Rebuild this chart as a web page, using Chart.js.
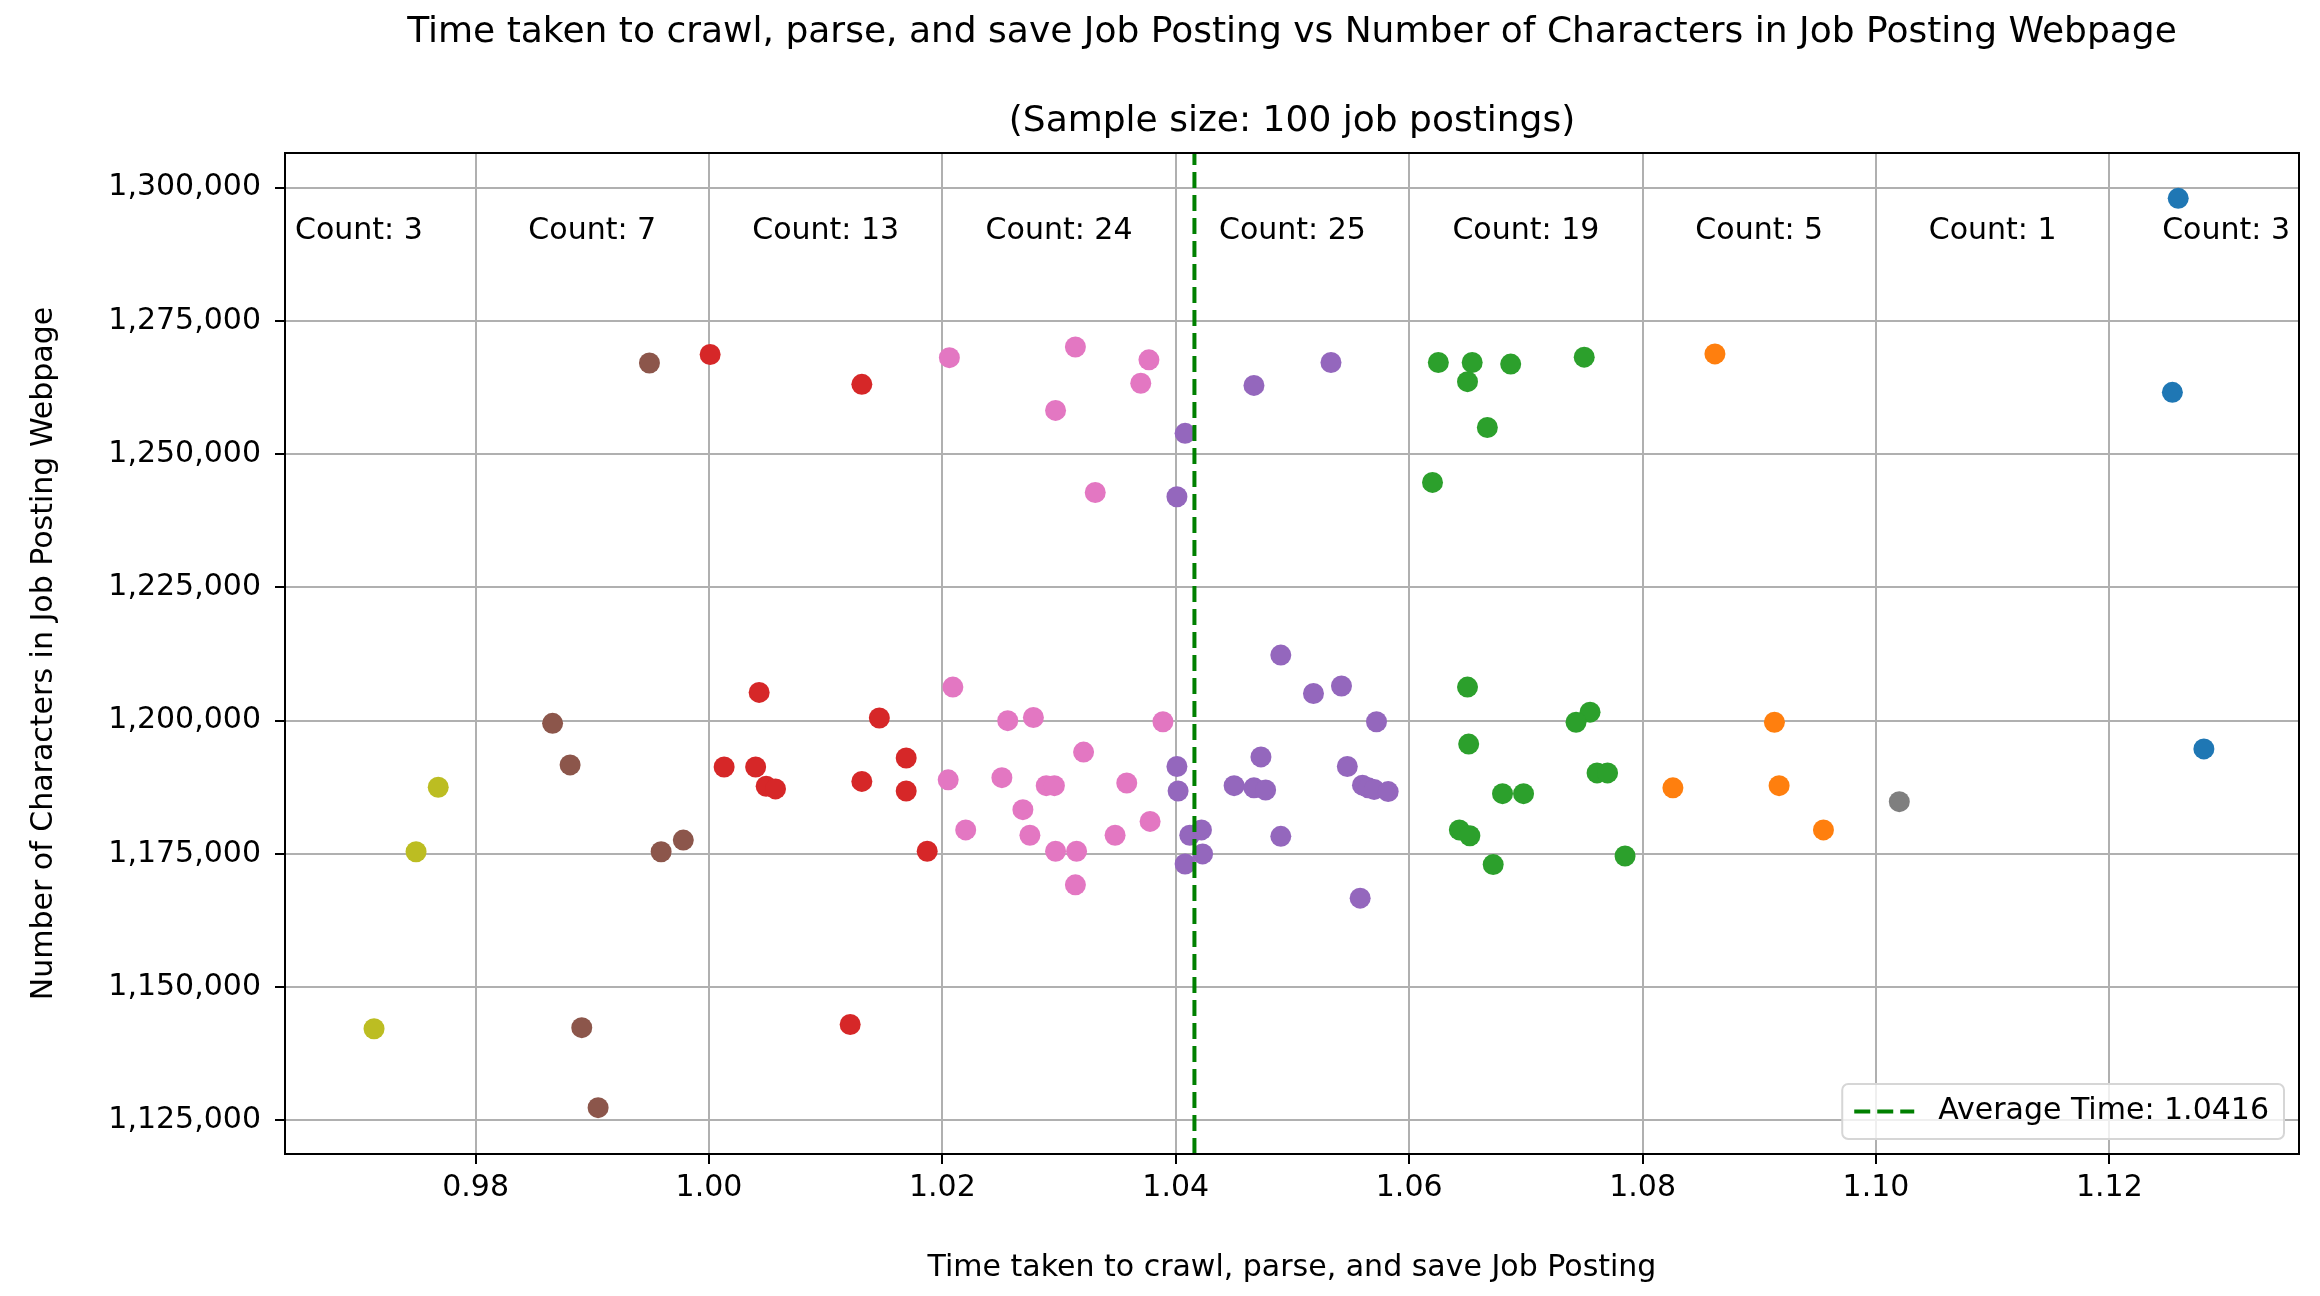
<!DOCTYPE html>
<html>
<head>
<meta charset="utf-8">
<script src="https://cdn.jsdelivr.net/npm/chart.js@4.4.1/dist/chart.umd.min.js"></script>
<style>
html,body{margin:0;padding:0;background:#ffffff;}
#wrap{width:2320px;height:1296px;}
canvas{display:block;}
</style>
</head>
<body>
<div id="wrap"><canvas id="c" width="2320" height="1296" style="width:2320px;height:1296px"></canvas></div>
<script>
// ---------- data ----------
const TITLE_LINE1 = 'Time taken to crawl, parse, and save Job Posting vs Number of Characters in Job Posting Webpage';
const TITLE_LINE2 = '(Sample size: 100 job postings)';
const X_LABEL = 'Time taken to crawl, parse, and save Job Posting';
const Y_LABEL = 'Number of Characters in Job Posting Webpage';
const LEGEND_LABEL = 'Average Time: 1.0416';

const AVG_TIME = 1.0416;
const BIN_EDGES = [0.96, 0.98, 1.00, 1.02, 1.04, 1.06, 1.08, 1.10, 1.12, 1.14];
const BIN_COUNTS = [3, 7, 13, 24, 25, 19, 5, 1, 3];
const COUNT_LABEL_Y = 1291800;

const X_TICKS = [0.98, 1.00, 1.02, 1.04, 1.06, 1.08, 1.10, 1.12];
const Y_TICKS = [1125000, 1150000, 1175000, 1200000, 1225000, 1250000, 1275000, 1300000];
const X_RANGE = [0.96367, 1.13625];
const Y_RANGE = [1118700, 1306500];

// bin 0.96-0.98
const TIME_B1 = [0.9768, 0.9749, 0.9713];
const CHARS_B1 = [1187500, 1175400, 1142200];
// bin 0.98-1.00
const TIME_B2 = [0.9866, 0.9881, 0.9959, 0.9978, 0.9891, 0.9905, 0.9949];
const CHARS_B2 = [1199500, 1191700, 1175400, 1177600, 1142400, 1127400, 1267100];
// bin 1.00-1.02
const TIME_B3 = [1.0001, 1.0131, 1.0043, 1.0013, 1.0040, 1.0049, 1.0057, 1.0131, 1.0121, 1.0146, 1.0169, 1.0169, 1.0187];
const CHARS_B3 = [1268700, 1263100, 1205300, 1191300, 1191300, 1187700, 1187200, 1188600, 1143000, 1200500, 1193000, 1186800, 1175500];
// bin 1.02-1.04
const TIME_B4 = [1.0206, 1.0314, 1.0377, 1.0370, 1.0297, 1.0331, 1.0209, 1.0256, 1.0278, 1.0389, 1.0321, 1.0205,
                 1.0251, 1.0289, 1.0296, 1.0358, 1.0269, 1.0220, 1.0275, 1.0348, 1.0378, 1.0297, 1.0315, 1.0314];
const CHARS_B4 = [1268100, 1270100, 1267700, 1263300, 1258200, 1242800, 1206300, 1200000, 1200600, 1199800, 1194100, 1188900,
                  1189300, 1187800, 1187800, 1188300, 1183300, 1179500, 1178500, 1178500, 1181100, 1175500, 1175500, 1169200];
// bin 1.04-1.06
const TIME_B5 = [1.0408, 1.0401, 1.0467, 1.0533, 1.0490, 1.0518, 1.0542, 1.0572, 1.0473, 1.0547, 1.0401, 1.0402, 1.0450,
                 1.0467, 1.0477, 1.0560, 1.0565, 1.0570, 1.0582, 1.0422, 1.0412, 1.0423, 1.0408, 1.0490, 1.0558];
const CHARS_B5 = [1253900, 1242000, 1262900, 1267200, 1212300, 1205100, 1206500, 1199800, 1193200, 1191400, 1191400, 1186800, 1187800,
                  1187400, 1187000, 1187900, 1187400, 1187100, 1186700, 1179500, 1178500, 1175000, 1173100, 1178300, 1166700];
// bin 1.06-1.08
const TIME_B6 = [1.0625, 1.0654, 1.0650, 1.0687, 1.0750, 1.0667, 1.0620, 1.0650, 1.0755, 1.0743, 1.0651, 1.0761, 1.0770,
                 1.0680, 1.0698, 1.0643, 1.0652, 1.0672, 1.0785];
const CHARS_B6 = [1267200, 1267200, 1263600, 1266900, 1268200, 1255000, 1244700, 1206300, 1201600, 1199700, 1195600, 1190200, 1190200,
                  1186300, 1186300, 1179500, 1178400, 1173000, 1174600];
// bin 1.08-1.10
const TIME_B7 = [1.0862, 1.0826, 1.0913, 1.0917, 1.0955];
const CHARS_B7 = [1268800, 1187400, 1199700, 1187800, 1179500];
// bin 1.10-1.12
const TIME_B8 = [1.1020];
const CHARS_B8 = [1184800];
// bin 1.12-1.14
const TIME_B9 = [1.1259, 1.1254, 1.1281];
const CHARS_B9 = [1298000, 1261600, 1194700];

const BIN_TIMES = [TIME_B1, TIME_B2, TIME_B3, TIME_B4, TIME_B5, TIME_B6, TIME_B7, TIME_B8, TIME_B9];
const BIN_CHARS = [CHARS_B1, CHARS_B2, CHARS_B3, CHARS_B4, CHARS_B5, CHARS_B6, CHARS_B7, CHARS_B8, CHARS_B9];

// ---------- styles ----------
const BIN_COLORS = ['#bcbd22', '#8c564b', '#d62728', '#e377c2', '#9467bd', '#2ca02c', '#ff7f0e', '#7f7f7f', '#1f77b4'];
const FONT = 'DejaVu Sans';
const AVG_COLOR = '#008000';

Chart.defaults.font.family = FONT;
Chart.defaults.color = '#000000';

const datasets = BIN_TIMES.map((times, i) => ({
  type: 'scatter',
  label: 'bin ' + i,
  data: times.map((t, j) => ({x: t, y: BIN_CHARS[i][j]})),
  backgroundColor: BIN_COLORS[i],
  borderColor: BIN_COLORS[i],
  borderWidth: 0,
  pointRadius: 10.5,
  pointHoverRadius: 10.5
}));

datasets.push({
  type: 'line',
  label: LEGEND_LABEL,
  data: [{x: AVG_TIME, y: Y_RANGE[0]}, {x: AVG_TIME, y: Y_RANGE[1]}],
  borderColor: AVG_COLOR,
  borderWidth: 4,
  borderDash: [16, 7],
  pointRadius: 0,
  fill: false,
  order: -1
});

const overlay = {
  id: 'overlay',
  afterDatasetsDraw(chart) {
    const ctx = chart.ctx, a = chart.chartArea;
    ctx.save();
    ctx.strokeStyle = '#000';
    ctx.lineWidth = 2;
    ctx.strokeRect(a.left, a.top, a.right - a.left, a.bottom - a.top);
    ctx.restore();
  },
  afterDraw(chart) {
    const ctx = chart.ctx, a = chart.chartArea;
    const xs = chart.scales.x, ys = chart.scales.y;
    ctx.save();
    // title
    const cx = (a.left + a.right) / 2;
    ctx.fillStyle = '#000';
    ctx.textAlign = 'center';
    ctx.textBaseline = 'middle';
    ctx.font = '36px "' + FONT + '"';
    ctx.fillText(TITLE_LINE1, cx, 33);
    ctx.fillText(TITLE_LINE2, cx, 122);
    // count labels
    ctx.font = '30px "' + FONT + '"';
    const cy = ys.getPixelForValue(COUNT_LABEL_Y);
    for (let i = 0; i < BIN_COUNTS.length; i++) {
      const mid = (BIN_EDGES[i] + BIN_EDGES[i + 1]) / 2;
      ctx.fillText('Count: ' + BIN_COUNTS[i], xs.getPixelForValue(mid), cy);
    }
    // legend
    const pad = 12, handle = 60, gap = 24;
    const tw = ctx.measureText(LEGEND_LABEL).width;
    const w = pad + handle + gap + tw + pad + 3;
    const h = 55;
    const right = a.right - 15, bottom = a.bottom - 15;
    const left = right - w, top = bottom - h;
    ctx.beginPath();
    ctx.roundRect(left, top, w, h, 6);
    ctx.fillStyle = 'rgba(255,255,255,0.8)';
    ctx.fill();
    ctx.strokeStyle = '#d6d6d6';
    ctx.lineWidth = 2;
    ctx.stroke();
    const my = top + h / 2;
    ctx.beginPath();
    ctx.setLineDash([16, 7]);
    ctx.strokeStyle = AVG_COLOR;
    ctx.lineWidth = 4;
    ctx.moveTo(left + pad, my);
    ctx.lineTo(left + pad + handle, my);
    ctx.stroke();
    ctx.setLineDash([]);
    ctx.fillStyle = '#000';
    ctx.textAlign = 'left';
    ctx.fillText(LEGEND_LABEL, left + pad + handle + gap, my);
    ctx.restore();
  }
};

new Chart(document.getElementById('c'), {
  data: {datasets},
  options: {
    responsive: false,
    animation: false,
    devicePixelRatio: 1,
    layout: {padding: {top: 153, right: 21, left: 0, bottom: 0}},
    plugins: {legend: {display: false}, title: {display: false}, tooltip: {enabled: false}},
    events: [],
    scales: {
      x: {
        type: 'linear',
        position: 'bottom',
        min: X_RANGE[0],
        max: X_RANGE[1],
        afterBuildTicks: s => { s.ticks = X_TICKS.map(v => ({value: v})); },
        afterFit: s => { s.height = 142; },
        ticks: {callback: v => Number(v).toFixed(2), font: {size: 30}, color: '#000', padding: 6, maxRotation: 0, autoSkip: false},
        grid: {color: '#b0b0b0', lineWidth: 2, tickLength: 10, tickColor: '#000', tickWidth: 2},
        border: {display: true, color: '#000', width: 2},
        title: {display: true, text: X_LABEL, font: {size: 30}, color: '#000', padding: {top: 0, bottom: 10}}
      },
      y: {
        type: 'linear',
        position: 'left',
        min: Y_RANGE[0],
        max: Y_RANGE[1],
        afterBuildTicks: s => { s.ticks = Y_TICKS.map(v => ({value: v})); },
        afterFit: s => { s.width = 285; },
        ticks: {callback: v => Number(v).toLocaleString('en-US'), font: {size: 30}, color: '#000', padding: 14, autoSkip: false},
        grid: {color: '#b0b0b0', lineWidth: 2, tickLength: 10, tickColor: '#000', tickWidth: 2},
        border: {display: true, color: '#000', width: 2},
        title: {display: true, text: Y_LABEL, font: {size: 30}, color: '#000', padding: {top: 26, bottom: 0}}
      }
    }
  },
  plugins: [overlay]
});
</script>
</body>
</html>
